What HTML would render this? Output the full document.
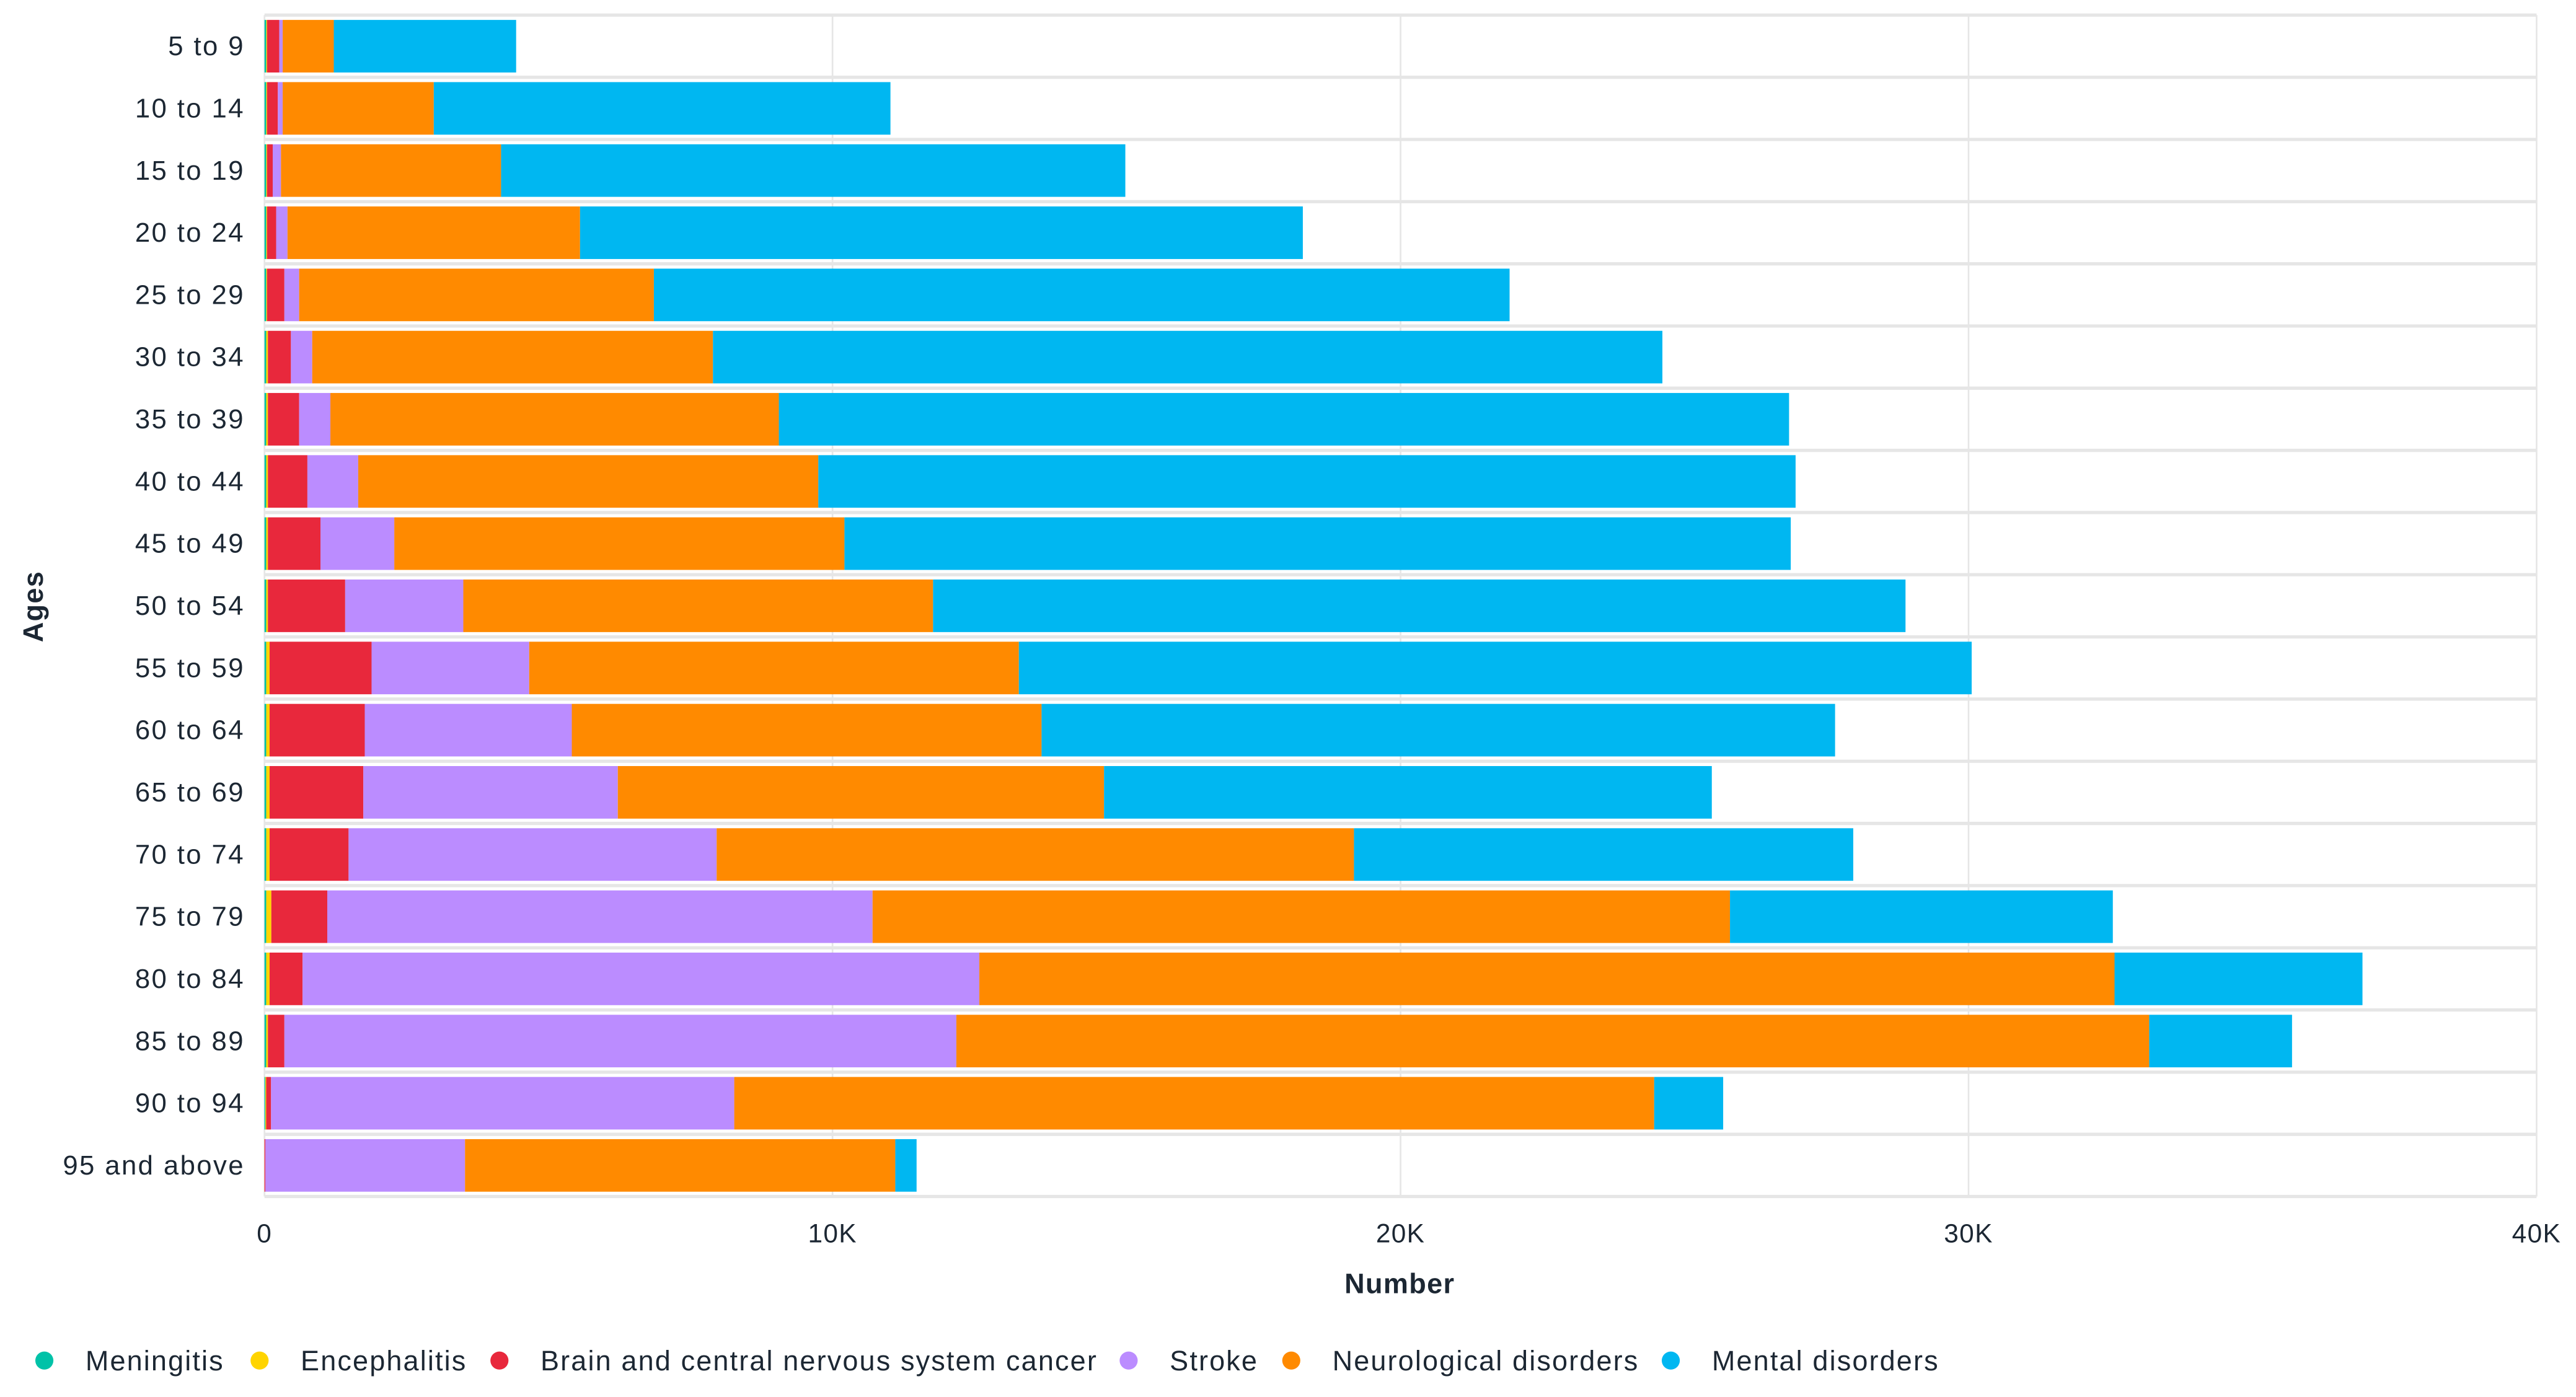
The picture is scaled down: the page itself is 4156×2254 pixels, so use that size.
<!DOCTYPE html>
<html><head><meta charset="utf-8"><style>
html,body{margin:0;padding:0;background:#fff;}
svg{display:block;font-family:"Liberation Sans",sans-serif;}
</style></head><body>
<svg id="chart" width="4156" height="2254" viewBox="0 0 1568 850" xmlns="http://www.w3.org/2000/svg">
<g id="grid"></g>
<g id="bars"></g>
<g id="yaxis"></g>
<g id="xaxis"></g>
<text transform="translate(26,369) rotate(-90)" text-anchor="middle" font-size="17" font-weight="bold" letter-spacing="0.5" fill="#1c2733">Ages</text>
<text x="852" y="787" text-anchor="middle" font-size="17" font-weight="bold" letter-spacing="0.5" fill="#1c2733">Number</text>
<g id="legend"></g>
</svg>
<script>
const categories = ["5 to 9","10 to 14","15 to 19","20 to 24","25 to 29","30 to 34","35 to 39","40 to 44","45 to 49","50 to 54","55 to 59","60 to 64","65 to 69","70 to 74","75 to 79","80 to 84","85 to 89","90 to 94","95 and above"];
const seriesNames = ["Meningitis","Encephalitis","Brain and central nervous system cancer","Stroke","Neurological disorders","Mental disorders"];
const seriesColors = ["#00c2a8","#ffd400","#e8283c","#bb8cff","#ff8a00","#00b7f1"];
const meningitis = [30,30,30,30,30,30,30,30,30,30,30,30,30,30,30,30,30,15,0];
const encephalitis = [15,15,15,15,15,30,30,30,30,30,60,60,60,60,90,60,30,15,0];
const cancer = [215,190,100,160,305,405,550,695,925,1360,1795,1675,1650,1390,985,580,290,85,15];
const stroke = [60,85,145,200,260,375,550,895,1300,2080,2775,3645,4480,6480,9600,11915,11830,8155,3515];
const neurological = [900,2660,3875,5150,6245,7055,7895,8100,7925,8270,8620,8270,8560,11220,15095,19985,21000,16195,7575];
const mental = [3210,8040,10990,12725,15065,16715,17785,17205,16660,17120,16775,13970,10700,8790,6740,4365,2515,1215,375];
const xTicks = [0,10000,20000,30000,40000];
const xTickLabels = ["0","10K","20K","30K","40K"];

const series = [meningitis,encephalitis,cancer,stroke,neurological,mental];
const seriesKeys = ["meningitis","encephalitis","cancer","stroke","neurological","mental"];
const NS = "http://www.w3.org/2000/svg";
const X0 = 161, X1 = 1544, XMAX = 40000;
const TOP = 9, STEP = 37.85, BARH = 32;
function xScale(v){ return X0 + (v / XMAX) * (X1 - X0); }
function yBand(i){ return TOP + i * STEP; }
function mk(tag, attrs){ const e = document.createElementNS(NS, tag); for (const k in attrs) e.setAttribute(k, attrs[k]); return e; }

const grid = document.getElementById('grid');
for (let i = 0; i <= categories.length; i++) {
  const ln = mk('line', {x1: X0, x2: X1, y1: yBand(i), y2: yBand(i), stroke: '#e6e6e6', 'stroke-width': 2});
  
  
  grid.appendChild(ln);
}
xTicks.forEach((t) => {
  const ln = mk('line', {x1: xScale(t), x2: xScale(t), y1: TOP, y2: yBand(categories.length), stroke: '#e6e6e6', 'stroke-width': 1});
  
  
  grid.appendChild(ln);
});

const bars = document.getElementById('bars');
categories.forEach((c, i) => {
  let cum = 0;
  const yc = yBand(i) + STEP / 2;
  series.forEach((s, k) => {
    const v = s[i];
    const x = xScale(cum), w = xScale(cum + v) - xScale(cum);
    cum += v;
    if (w <= 0) return;
    const r = mk('rect', {x: x, y: yc - BARH / 2, width: w, height: BARH, fill: seriesColors[k]});
    
    
    bars.appendChild(r);
  });
});

const yaxis = document.getElementById('yaxis');
categories.forEach((c, i) => {
  const t = mk('text', {x: 149, y: yBand(i) + STEP / 2 + 5.5, 'text-anchor': 'end', 'font-size': 16.5, 'letter-spacing': 0.9, fill: '#1c2733'});
  t.textContent = c;
  
  
  yaxis.appendChild(t);
});

const xaxis = document.getElementById('xaxis');
xTicks.forEach((tv, i) => {
  const t = mk('text', {x: xScale(tv), y: 756, 'text-anchor': 'middle', 'font-size': 16, 'letter-spacing': 0.5, fill: '#1c2733'});
  t.textContent = xTickLabels[i];
  
  
  xaxis.appendChild(t);
});

const legend = document.getElementById('legend');
const legendX = [27, 158, 304, 687, 786, 1017];
seriesNames.forEach((n, k) => {
  const g = mk('g', {});
  
  
  const dot = mk('circle', {cx: legendX[k], cy: 828, r: 5.5, fill: seriesColors[k]});
  
  
  const t = mk('text', {x: legendX[k] + 25, y: 834, 'font-size': 17, 'letter-spacing': 0.8, fill: '#1c2733'});
  t.textContent = n;
  
  
  g.appendChild(dot); g.appendChild(t);
  legend.appendChild(g);
});
</script>
</body></html>
